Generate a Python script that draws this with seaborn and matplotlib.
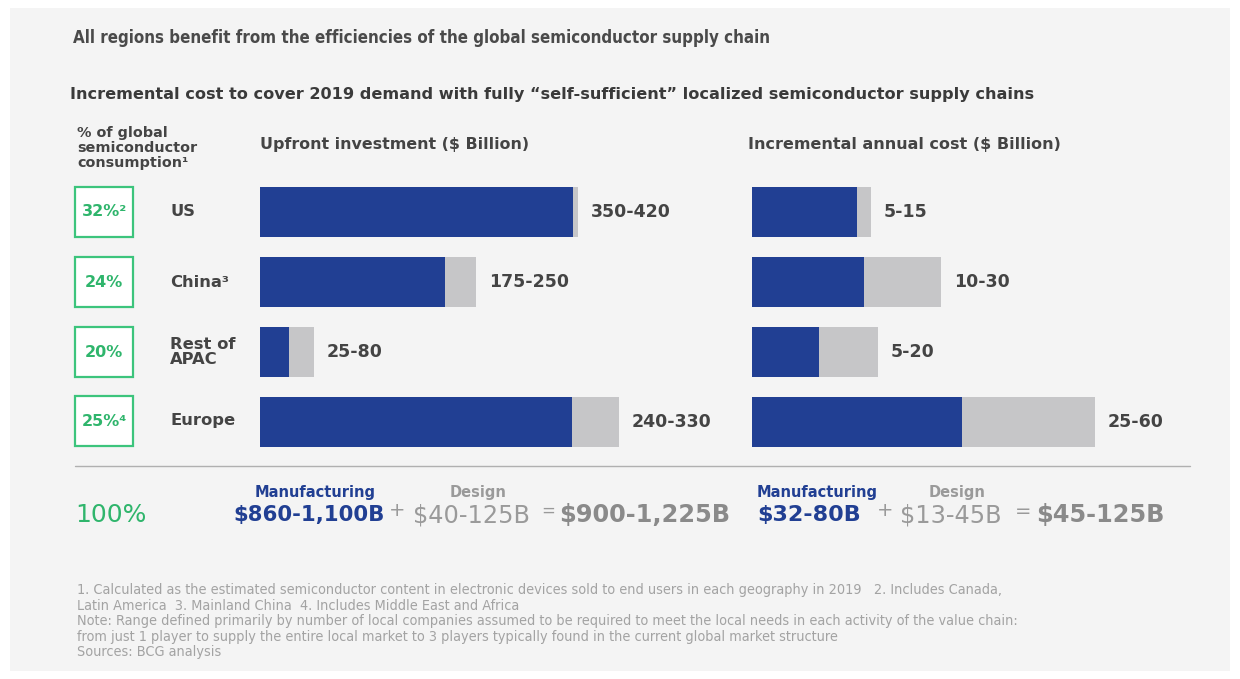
import matplotlib
matplotlib.use("Agg")
import matplotlib.pyplot as plt
from matplotlib.patches import Rectangle
import seaborn as sns
import pandas as pd

# ---------------- data ----------------
regions = ["US", "China", "Rest of APAC", "Europe"]
region_labels = ["US", "China³", "Rest of\nAPAC", "Europe"]
consumption_share = ["32%²", "24%", "20%", "25%⁴"]

upfront_manufacturing = [368, 218, 34, 367]
upfront_design = [6, 36, 29, 55]
upfront_labels = ["350-420", "175-250", "25-80", "240-330"]

annual_manufacturing = [30, 32, 19, 60]
annual_design = [4, 22, 17, 38]
annual_labels = ["5-15", "10-30", "5-20", "25-60"]

# ---------------- style ----------------
W, H = 1240, 679
BG = "#f4f4f4"
NAVY = "#213f93"
GREY_BAR = "#c6c6c8"
TXT = "#444444"
GREEN = "#3cc47c"
GREY_TXT = "#9a9a9a"

sns.set_theme(style="white")
plt.rcParams["font.family"] = ["DejaVu Sans"]

fig = plt.figure(figsize=(W / 100, H / 100), dpi=100)
fig.patch.set_facecolor("white")
fig.patches.append(Rectangle((10 / W, 1 - 671 / H), 1220 / W, 663 / H,
                             transform=fig.transFigure, facecolor=BG,
                             edgecolor="none", zorder=-10))


def fx(x):
    return x / W


def fy(y):
    return 1 - y / H


def txt(x, y, s, **kw):
    kw.setdefault("va", "center")
    kw.setdefault("ha", "left")
    fig.text(fx(x), fy(y), s, **kw)


# ---------------- titles ----------------
txt(73, 38, "All regions benefit from the efficiencies of the global semiconductor supply chain",
    fontsize=12.2, fontweight="bold", fontstretch="condensed", color="#4a4a4a")
txt(70, 94, "Incremental cost to cover 2019 demand with fully \u201cself-sufficient\u201d localized semiconductor supply chains",
    fontsize=11.6, fontweight="bold", color="#3a3a3a")
txt(77, 148, "% of global\nsemiconductor\nconsumption¹", fontsize=10.4, fontweight="bold",
    color=TXT, linespacing=1.12)
txt(260, 145, "Upfront investment ($ Billion)", fontsize=11.4, fontweight="bold", color=TXT)
txt(748, 145, "Incremental annual cost ($ Billion)", fontsize=11.5, fontweight="bold", color=TXT)

# ---------------- bar panels ----------------
top, bottom = 177, 457
bar_w = 50 / 70


def panel(left, width, xmax, manuf, design, labels):
    ax = fig.add_axes([fx(left), fy(bottom), width / W, (bottom - top) / H])
    df = pd.DataFrame({"region": regions,
                       "manufacturing": manuf,
                       "total": [m + d for m, d in zip(manuf, design)]})
    sns.barplot(data=df, x="total", y="region", orient="h", color=GREY_BAR,
                saturation=1, width=bar_w, ax=ax, linewidth=0)
    sns.barplot(data=df, x="manufacturing", y="region", orient="h", color=NAVY,
                saturation=1, width=bar_w, ax=ax, linewidth=0)
    ax.set_xlim(0, xmax)
    ax.set_ylim(3.5, -0.5)
    ax.axis("off")
    for i, (t, lab) in enumerate(zip(df["total"], labels)):
        ax.annotate(lab, (t, i), xytext=(13, 0), textcoords="offset pixels",
                    va="center", ha="left", fontsize=12.5, fontweight="bold",
                    color=TXT)
    return ax


panel(260, 425, 500, upfront_manufacturing, upfront_design, upfront_labels)
panel(752, 350, 100, annual_manufacturing, annual_design, annual_labels)

# ---------------- left column: shares & region names ----------------
row_y = [212, 282, 352, 421]
for y, share, lab in zip(row_y, consumption_share, region_labels):
    fig.patches.append(Rectangle((fx(75), fy(y + 25)), 58 / W, 50 / H,
                                 transform=fig.transFigure, facecolor="white",
                                 edgecolor=GREEN, linewidth=1.6))
    txt(104, y, share, ha="center", fontsize=11.5, fontweight="bold", color="#2fb56c")
    txt(170, y, lab, fontsize=11.8, fontweight="bold", color=TXT, linespacing=1.05)

# separator
fig.add_artist(plt.Line2D([fx(75), fx(1190)], [fy(466), fy(466)],
                          color="#b0b0b0", linewidth=1, transform=fig.transFigure))

# ---------------- summary row ----------------
txt(75, 515, "100%", fontsize=18, color="#2fb56c")

txt(255, 492, "Manufacturing", fontsize=10.5, fontweight="bold", color=NAVY)
txt(450, 492, "Design", fontsize=10.5, fontweight="bold", color=GREY_TXT)
txt(233, 515, "$860-1,100B", fontsize=15.3, fontweight="bold", color=NAVY)
txt(389, 511, "+", fontsize=14, color=GREY_TXT)
txt(413, 515, "$40-125B", fontsize=17.3, color=GREY_TXT)
txt(541, 511, "=", fontsize=12, color=GREY_TXT)
txt(559, 515, "$900-1,225B", fontsize=17.3, fontweight="bold", color="#8a8a8a")

txt(757, 492, "Manufacturing", fontsize=10.5, fontweight="bold", color=NAVY)
txt(929, 492, "Design", fontsize=10.5, fontweight="bold", color=GREY_TXT)
txt(757, 515, "$32-80B", fontsize=16, fontweight="bold", color=NAVY)
txt(877, 511, "+", fontsize=14, color=GREY_TXT)
txt(900, 515, "$13-45B", fontsize=17.3, color=GREY_TXT)
txt(1015, 511, "=", fontsize=14, color=GREY_TXT)
txt(1036, 515, "$45-125B", fontsize=17.3, fontweight="bold", color="#8a8a8a")

# ---------------- footnotes ----------------
notes = [
    "1. Calculated as the estimated semiconductor content in electronic devices sold to end users in each geography in 2019   2. Includes Canada,",
    "Latin America  3. Mainland China  4. Includes Middle East and Africa",
    "Note: Range defined primarily by number of local companies assumed to be required to meet the local needs in each activity of the value chain:",
    "from just 1 player to supply the entire local market to 3 players typically found in the current global market structure",
    "Sources: BCG analysis",
]
for i, n in enumerate(notes):
    txt(77, 590 + i * 15.5, n, fontsize=10.4, fontstretch="condensed", color="#a3a3a3")

fig.savefig("out.png", dpi=100, facecolor=fig.get_facecolor())
